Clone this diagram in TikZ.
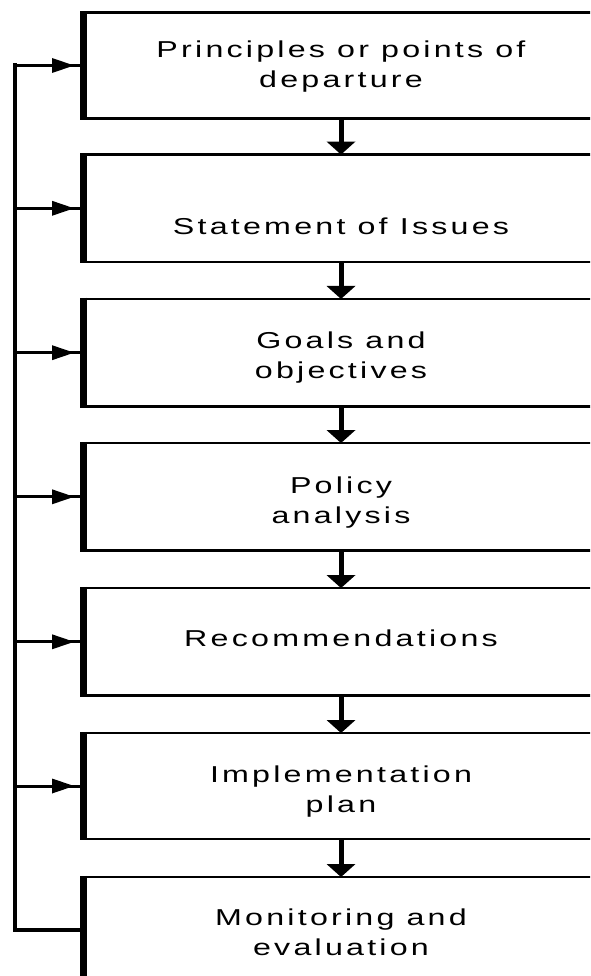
\documentclass[tikz,border=0pt]{standalone}
\usepackage{fontspec}
\usetikzlibrary{arrows.meta,decorations.markings}
\newfontfamily\boxfont[LetterSpace=10]{Liberation Sans}
\newcommand\wtxt[1]{\scalebox{1.4}[1]{\begin{tabular}{@{}c@{}}#1\end{tabular}}}
\begin{document}
\begin{tikzpicture}[x=1pt,y=-1pt,
  box/.style={rectangle, draw, line width=2.5pt, minimum width=515pt, outer sep=0pt, inner sep=0pt},
  ledge/.style={line width=7pt},
  lbl/.style={font=\boxfont\fontsize{23}{30}\selectfont, inner sep=0pt},
  down/.style={line width=5pt, -{Triangle[width=29pt,length=13pt,line width=0pt]}},
  fb/.style={line width=3pt, postaction={decorate},
    decoration={markings, mark=at position -9.5pt with {\arrow{Triangle[width=15pt,length=22pt,line width=0pt]}}}},
  trunk/.style={line width=4pt, line cap=rect}]
\useasboundingbox (0,0) rectangle (590,976);
\fill[white] (0,0) rectangle (590,976);
\clip (0,0) rectangle (590,976);

% boxes
\node[box, minimum height=106pt]   (b1) at (341,65.5) {};
\node[box, minimum height=107.5pt] (b2) at (341,208.3) {};
\node[box, minimum height=107.5pt] (b3) at (341,352.7) {};
\node[box, minimum height=107.5pt] (b4) at (341,496.8) {};
\node[box, minimum height=107.5pt] (b5) at (341,641.8) {};
\node[box, minimum height=106pt]   (b6) at (341,786) {};
\node[box, minimum height=123pt]   (b7) at (341,938.5) {};

\foreach \b in {b1,b2,b3,b4,b5,b6,b7}{
  \draw[ledge] ([yshift=1.25pt]\b.north west) -- ([yshift=-1.25pt]\b.south west);
}

% labels
\node[lbl] (t1) at (341,67)  {\wtxt{Principles or points of\\departure}};
\node[lbl] (t2) at (341,228) {\wtxt{Statement of Issues}};
\node[lbl] (t3) at (341,357) {\wtxt{Goals and\\objectives}};
\node[lbl] (t4) at (341,502) {\wtxt{Policy\\analysis}};
\node[lbl] (t5) at (341,640) {\wtxt{Recommendations}};
\node[lbl] (t6) at (341,791) {\wtxt{Implementation\\plan}};
\node[lbl] (t7) at (341,934) {\wtxt{Monitoring and\\evaluation}};

% downward arrows
\draw[down] (b1.south) -- (b2.north);
\draw[down] (b2.south) -- (b3.north);
\draw[down] (b3.south) -- (b4.north);
\draw[down] (b4.south) -- (b5.north);
\draw[down] (b5.south) -- (b6.north);
\draw[down] (b6.south) -- (b7.north);

% feedback loop
\coordinate (fbtop) at (15,65.5);
\coordinate (fbbot) at (15,930);
\draw[trunk] (fbtop) -- (fbbot) -- (fbbot -| b7.west);
\draw[fb] (fbtop) -- (b1.west);
\draw[fb] (fbtop |- b2.west) -- (b2.west);
\draw[fb] (fbtop |- b3.west) -- (b3.west);
\draw[fb] (fbtop |- b4.west) -- (b4.west);
\draw[fb] (fbtop |- b5.west) -- (b5.west);
\draw[fb] (fbtop |- b6.west) -- (b6.west);
\end{tikzpicture}
\end{document}
